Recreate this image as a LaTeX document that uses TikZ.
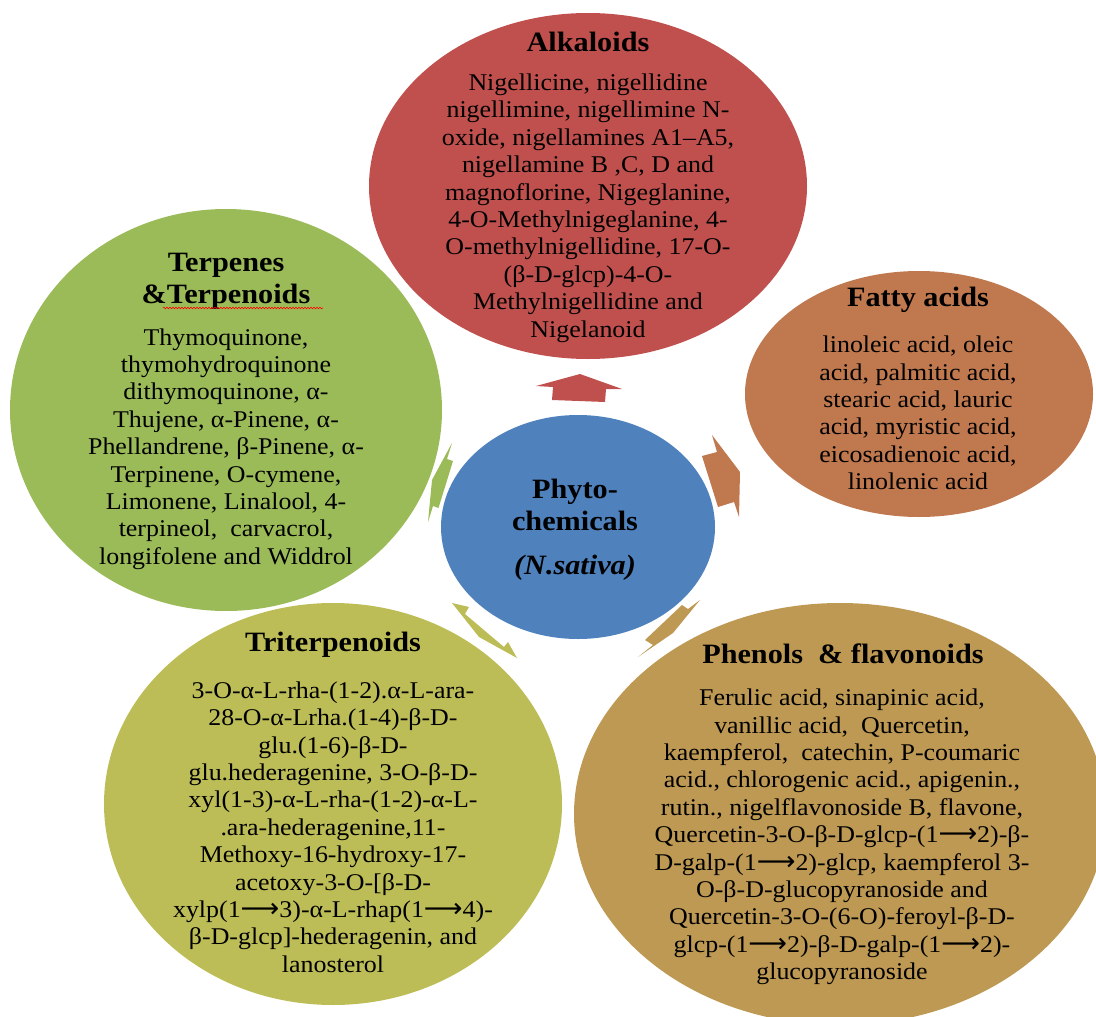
\documentclass[tikz,border=0pt]{standalone}
\usepackage{fontspec}
\setmainfont{Liberation Serif}[FakeStretch=1.08]
\newfontfamily\arrfont{DejaVu Sans}
\newcommand{\lra}{{\arrfont\fontsize{27}{27.4}\selectfont ⟶}}
\usetikzlibrary{shapes.geometric,decorations.pathmorphing}
\definecolor{cAlk}{HTML}{C0504D}
\definecolor{cTer}{HTML}{9BBB59}
\definecolor{cFat}{HTML}{C0784E}
\definecolor{cCen}{HTML}{4F81BD}
\definecolor{cTri}{HTML}{BDBD57}
\definecolor{cPhe}{HTML}{BE9953}
\begin{document}
\begin{tikzpicture}[x=1pt,y=-1pt,
  blob/.style={ellipse, inner sep=0pt, draw=none},
  ttl/.style={font=\fontsize{28}{32}\selectfont\bfseries, inner sep=0pt, align=center},
  body/.style={font=\fontsize{24}{27.4}\selectfont, inner sep=0pt, align=center}]
\useasboundingbox (0,0) rectangle (1096,1017);
\clip (0,0) rectangle (1096,1017);
% ellipses
\node[blob, fill=cAlk, minimum width=438pt, minimum height=346pt] (alk) at (588,186) {};
\node[blob, fill=cTer, minimum width=432pt, minimum height=402pt] (ter) at (226,410) {};
\node[blob, fill=cFat, minimum width=348pt, minimum height=246pt] (fat) at (919,394) {};
\node[blob, fill=cCen, minimum width=274pt, minimum height=224pt] (cen) at (578,527) {};
\node[blob, fill=cTri, minimum width=458pt, minimum height=402pt] (tri) at (333,804) {};
\node[blob, fill=cPhe, minimum width=532pt, minimum height=422pt] (phe) at (840,814) {};
% block arrows
\fill[cAlk] (580,374) -- (622,389) -- (606,389) -- (605,402) -- (552,400) -- (553,387) -- (536,386) -- cycle;
\fill[cFat] (712,435) -- (740,472) -- (739,517) -- (734,502) -- (718,507) -- (702,456) -- (717,452) -- cycle;
\fill[cPhe] (700,600) -- (673,633) -- (638,657) -- (653,645) -- (645,640) -- (682,605) -- (688,609) -- cycle;
\fill[cTri] (452,603) -- (469,607) -- (465,614) -- (504,647) -- (508,642) -- (517,658) -- (479,637) -- cycle;
\fill[cTer] (452,443) -- (447,459) -- (453,461) -- (438.5,508) -- (433,506) -- (428,522) -- (432,480) -- cycle;
% texts
\node[ttl] (alkT) at (588,42) {Alkaloids};
\node[body] (alkB) at (588,208) {Nigellicine, nigellidine\\ nigellimine, nigellimine N-\\ oxide, nigellamines A1–A5,\\ nigellamine B ,C, D and\\ magnoflorine, Nigeglanine,\\ 4-O-Methylnigeglanine, 4-\\ O-methylnigellidine, 17-O-\\ (β-D-glcp)-4-O-\\ Methylnigellidine and\\ Nigelanoid};
\node[ttl] (terT) at (226,281) {Terpenes\\ \&Terpenoids};
\draw[red, line width=0.6pt, decorate, decoration={snake, amplitude=0.8pt, segment length=3pt}] (163,308) -- (323,308);
\node[body] (terB) at (226,449) {Thymoquinone,\\ thymohydroquinone\\ dithymoquinone, α-\\ Thujene, α-Pinene, α-\\ Phellandrene, β-Pinene, α-\\ Terpinene, O-cymene,\\ Limonene, Linalool, 4-\\ terpineol,\ \ carvacrol,\\ longifolene and Widdrol};
\node[ttl] (fatT) at (918,300) {Fatty acids};
\node[body] (fatB) at (918,413) {linoleic acid, oleic\\ acid, palmitic acid,\\ stearic acid, lauric\\ acid, myristic acid,\\ eicosadienoic acid,\\ linolenic acid};
\node[ttl] (cenT) at (575,505) {Phyto-\\ chemicals};
\node[ttl, font=\fontsize{28}{32}\selectfont\bfseries\itshape] (cenS) at (575,568) {(N.sativa)};
\node[ttl] (triT) at (333,645) {Triterpenoids};
\node[body] (triB) at (333,827) {3-O-α-L-rha-(1-2).α-L-ara-\\ 28-O-α-Lrha.(1-4)-β-D-\\ glu.(1-6)-β-D-\\ glu.hederagenine, 3-O-β-D-\\ xyl(1-3)-α-L-rha-(1-2)-α-L-\\ .ara-hederagenine,11-\\ Methoxy-16-hydroxy-17-\\ acetoxy-3-O-[β-D-\\ xylp(1\lra3)-α-L-rhap(1\lra4)-\\ β-D-glcp]-hederagenin, and\\ lanosterol};
\node[ttl] (pheT) at (843,654) {Phenols\ \ \& flavonoids};
\node[body] (pheB) at (842,837) {Ferulic acid, sinapinic acid,\\ vanillic acid,\ \ Quercetin,\\ kaempferol,\ \ catechin, P-coumaric\\ acid., chlorogenic acid., apigenin.,\\ rutin., nigelflavonoside B, flavone,\\ Quercetin-3-O-β-D-glcp-(1\lra2)-β-\\ D-galp-(1\lra2)-glcp, kaempferol 3-\\ O-β-D-glucopyranoside and\\ Quercetin-3-O-(6-O)-feroyl-β-D-\\ glcp-(1\lra2)-β-D-galp-(1\lra2)-\\ glucopyranoside};
\end{tikzpicture}
\end{document}
